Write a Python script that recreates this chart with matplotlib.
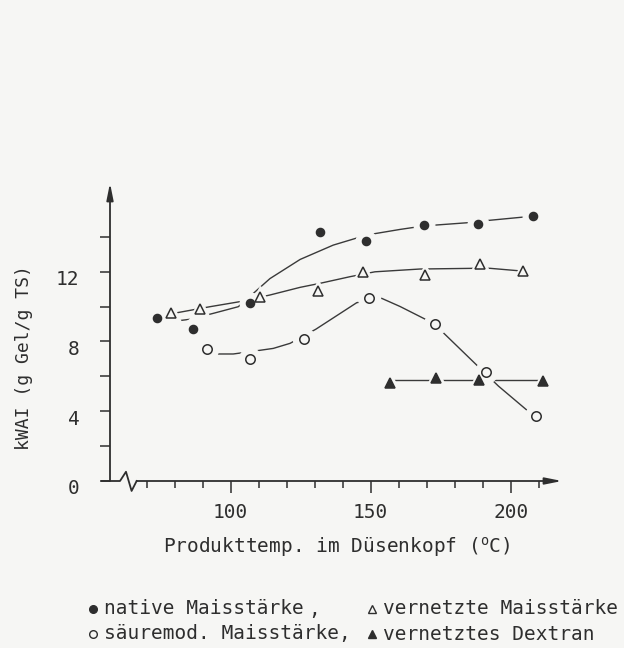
"""kWAI vs. product temperature at the nozzle head, four starch variants."""

import matplotlib

matplotlib.use("Agg")
import matplotlib.pyplot as plt
from matplotlib.lines import Line2D
from matplotlib.transforms import ScaledTranslation

W, H = 624, 648
INK = "#2e2e2e"
BG = "#f6f6f4"
FONT = "DejaVu Sans Mono"

# measured points
native_x = [73.8, 86.6, 106.9, 131.9, 148.3, 169.1, 188.4, 207.8]
native_y = [9.36, 8.69, 10.22, 14.25, 13.75, 14.67, 14.71, 15.20]
vernetzt_x = [78.6, 89.0, 110.5, 131.3, 147.1, 169.4, 189.0, 204.3]
vernetzt_y = [9.61, 9.84, 10.56, 10.90, 11.99, 11.80, 12.44, 12.03]
saeure_x = [91.4, 106.9, 126.3, 149.4, 173.0, 191.2, 209.0]
saeure_y = [7.56, 6.97, 8.12, 10.47, 9.00, 6.26, 3.72]
dextran_x = [156.9, 173.3, 188.8, 211.6]
dextran_y = [5.60, 5.88, 5.79, 5.75]

# hand-drawn trend curves
native_curve_x = [76.5, 85.5, 93.8, 102.7, 107.0, 114.0, 124.8, 136.6, 148.6, 160.5, 169.0, 186.0, 191.0, 206.0]
native_curve_y = [9.09, 9.27, 9.61, 9.99, 10.60, 11.60, 12.70, 13.52, 14.10, 14.42, 14.62, 14.82, 14.92, 15.15]
vernetzt_curve_x = [80.0, 92.6, 103.3, 114.0, 124.8, 131.9, 142.6, 151.5, 167.6, 187.2, 192.6, 204.3]
vernetzt_curve_y = [9.62, 9.99, 10.28, 10.66, 11.10, 11.33, 11.71, 11.99, 12.15, 12.19, 12.19, 12.03]
saeure_curve_x = [93.6, 100.9, 106.9, 115.2, 121.2, 130.4, 145.0, 153.9, 160.5, 170.0, 175.9, 187.8, 195.6, 205.7]
saeure_curve_y = [7.28, 7.28, 7.41, 7.60, 7.89, 8.70, 10.22, 10.47, 10.00, 9.23, 8.50, 6.65, 5.44, 4.07]
dextran_line_x = [156.9, 211.6]
dextran_line_y = [5.78, 5.78]

y_ticks = [0, 4, 8, 12]
y_minor = [2, 6, 10, 14]
x_ticks = [100, 150, 200]
x_minor = list(range(70, 211, 10))

series = [
    # x, y, curve x, curve y, marker, size, face
    (native_x, native_y, native_curve_x, native_curve_y, "o", 5.8, INK),
    (vernetzt_x, vernetzt_y, vernetzt_curve_x, vernetzt_curve_y, "^", 7.0, "none"),
    (saeure_x, saeure_y, saeure_curve_x, saeure_curve_y, "o", 6.8, "none"),
    (dextran_x, dextran_y, dextran_line_x, dextran_line_y, "^", 6.5, INK),
]


def fx(px):
    return px / W


def fy(py):
    return 1 - py / H


fig = plt.figure(figsize=(W / 100, H / 100), dpi=100, facecolor=BG)
ax = fig.add_axes([fx(110), fy(481), (562 - 110) / W, (481 - 183) / H])
ax.set_facecolor(BG)
ax.set_xlim(56.89, 218.3)
ax.set_ylim(0, 17.08)
for s in ax.spines.values():
    s.set_visible(False)

for x, y, cx, cy, m, ms, fc in series:
    ax.plot(cx, cy, color="#3a3a3a", lw=1.0, zorder=2, solid_capstyle="round")
    # blank ring so the drawn curves stop short of each marker
    ax.plot(x, y, ls="none", marker=m, ms=ms + 9, color=BG, mec=BG, zorder=3)
    ax.plot(x, y, ls="none", marker=m, ms=ms, mfc=fc, mec=INK, mew=1.1, zorder=4)

# axes with arrows and the break mark
arrow = dict(arrowstyle="-|>,head_length=1.0,head_width=0.2", lw=1.3, color=INK,
             shrinkA=0, shrinkB=0)
ax.annotate("", xy=(0, 1), xytext=(0, 0), xycoords="axes fraction",
            textcoords="axes fraction", arrowprops=arrow)
ax.plot([54.0, 60.46, 62.6, 64.6, 66.4], [0, 0, 0.53, -0.57, 0], color=INK, lw=1.3,
        clip_on=False, zorder=5)
ax.annotate("", xy=(1, 0), xytext=(66.4, 0), xycoords="axes fraction",
            textcoords="data", arrowprops=arrow)

ax.set_xticks(x_ticks)
ax.set_xticks(x_minor, minor=True)
ax.set_yticks(y_ticks)
ax.set_yticks(y_minor, minor=True)
ax.tick_params(axis="x", which="major", length=8.5, width=1.1, color=INK, pad=7,
               labelsize=14, labelcolor=INK)
ax.tick_params(axis="x", which="minor", length=5, width=1.1, color=INK)
ax.tick_params(axis="y", which="both", length=7, width=1.1, color=INK, pad=15,
               labelsize=14, labelcolor=INK)
for lab in ax.get_xticklabels() + ax.get_yticklabels():
    lab.set_fontfamily(FONT)
for lab in ax.get_yticklabels():
    lab.set_transform(lab.get_transform() + ScaledTranslation(0, -0.06, fig.dpi_scale_trans))

plt.rcParams["mathtext.fontset"] = "custom"
plt.rcParams["mathtext.rm"] = FONT

fig.text(fx(24), fy(358), "kWAI (g Gel/g TS)", rotation=90, ha="center", va="center",
         fontsize=13, family=FONT, color=INK)
fig.text(fx(337), fy(547), r"Produkttemp. im Düsenkopf ($^{\mathrm{o}}$C)", ha="center",
         va="center", fontsize=14, family=FONT, color=INK)

# legend written under the plot
legend_rows = [
    (609, [("o", INK, 93, "native Maisstärke"), ("^", "none", 372, "vernetzte Maisstärke")], ","),
    (634, [("o", "none", 93, "säuremod. Maisstärke,"), ("^", INK, 372, "vernetztes Dextran")], None),
]
for py, entries, comma in legend_rows:
    for m, fc, px, label in entries:
        fig.add_artist(Line2D([fx(px)], [fy(py)], transform=fig.transFigure, ls="none",
                              marker=m, ms=5.5, mfc=fc, mec=INK, mew=1.0))
        fig.text(fx(px + 11), fy(py), label, ha="left", va="center", fontsize=14,
                 family=FONT, color=INK)
    if comma:
        fig.text(fx(314), fy(py), comma, ha="center", va="center", fontsize=14,
                 family=FONT, color=INK)

fig.savefig("out.png", dpi=100, facecolor=BG)
